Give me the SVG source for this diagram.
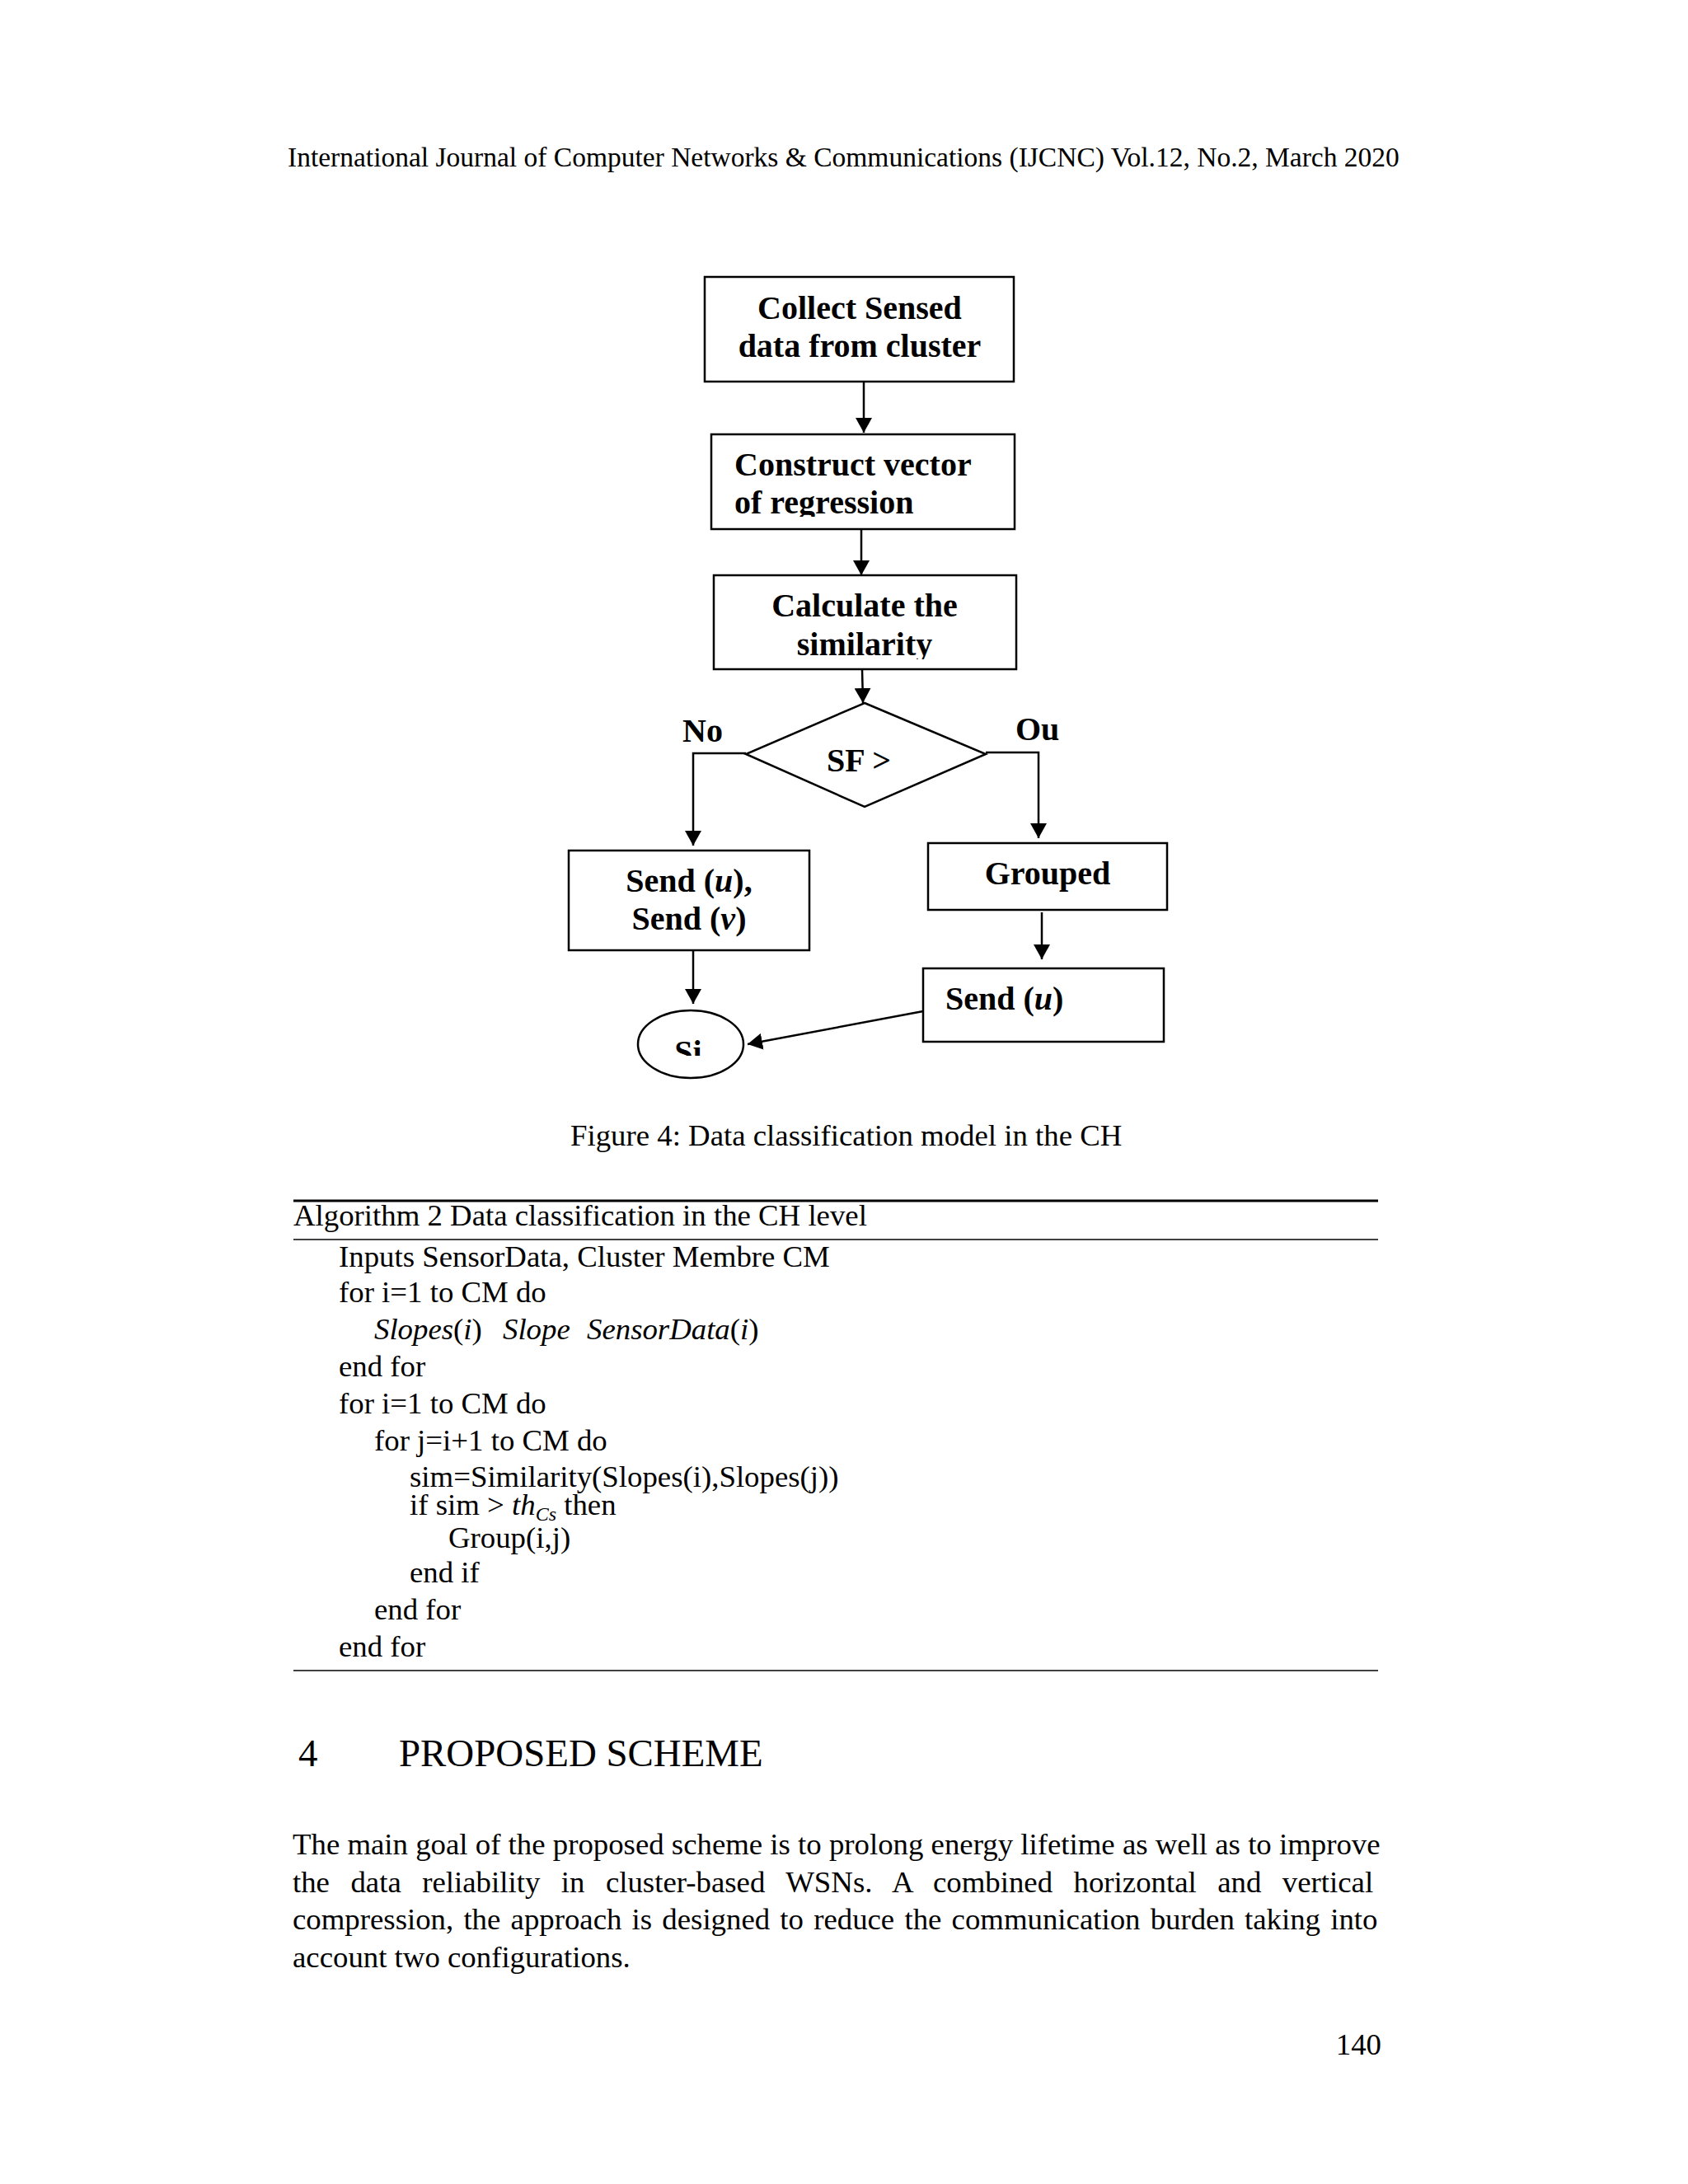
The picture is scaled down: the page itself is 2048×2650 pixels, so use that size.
<svg xmlns="http://www.w3.org/2000/svg" width="2048" height="2650" viewBox="0 0 2048 2650">
<style>
text{font-family:"Liberation Serif","Times New Roman",serif;fill:#000}
.b{font-weight:bold;font-size:40px}
.t{font-size:36.8px}
.i{font-style:italic}
.box{fill:#fff;stroke:#000;stroke-width:2.5}
.con{fill:none;stroke:#000;stroke-width:2.5}
</style>
<defs>
<marker id="ah" markerUnits="userSpaceOnUse" markerWidth="20" markerHeight="20" refX="18" refY="10" orient="auto">
<path d="M0,0 L18,10 L0,20 z" fill="#000"/>
</marker>
<clipPath id="c2"><rect x="860" y="520" width="380" height="107"/></clipPath>
<clipPath id="c3"><rect x="860" y="690" width="380" height="110"/></clipPath>
<clipPath id="cs"><rect x="770" y="1220" width="140" height="61"/></clipPath>
</defs>
<rect width="2048" height="2650" fill="#fff"/>
<text x="349" y="202" style="font-size:33.5px">International Journal of Computer Networks &amp; Communications (IJCNC) Vol.12, No.2, March 2020</text>

<g id="connectors">
<line class="con" x1="1048" y1="463" x2="1048" y2="525" marker-end="url(#ah)"/>
<line class="con" x1="1045" y1="642" x2="1045" y2="698" marker-end="url(#ah)"/>
<line class="con" x1="1046" y1="812" x2="1047" y2="853" marker-end="url(#ah)"/>
<polyline class="con" points="905,914 841,914 841,1026" marker-end="url(#ah)"/>
<polyline class="con" points="1196,913 1260,913 1260,1017" marker-end="url(#ah)"/>
<line class="con" x1="841" y1="1153" x2="841" y2="1218" marker-end="url(#ah)"/>
<line class="con" x1="1264" y1="1107" x2="1264" y2="1164" marker-end="url(#ah)"/>
<line class="con" x1="1120" y1="1227" x2="907" y2="1267" marker-end="url(#ah)"/>
</g>

<g id="collect">
<rect class="box" x="855" y="336" width="375" height="127"/>
<text class="b" x="1043" y="387" text-anchor="middle">Collect Sensed</text>
<text class="b" x="1043" y="433" text-anchor="middle">data from cluster</text>
</g>
<g id="construct">
<rect class="box" x="863" y="527" width="368" height="115"/>
<g clip-path="url(#c2)">
<text class="b" x="891" y="577">Construct vector</text>
<text class="b" x="891" y="623">of regression</text>
</g>
</g>
<g id="calculate">
<rect class="box" x="866" y="698" width="367" height="114"/>
<g clip-path="url(#c3)">
<text class="b" x="1049" y="748" text-anchor="middle">Calculate the</text>
<text class="b" x="1049" y="795" text-anchor="middle">similarity</text>
</g>
</g>
<g id="decision">
<polygon class="box" points="1049,853 1196,915 1049,979 905,915"/>
<text class="b" x="1003" y="936">SF &gt;</text>
</g>
<text id="label-no" class="b" x="828" y="900">No</text>
<text id="label-ou" class="b" x="1232" y="898">Ou</text>
<g id="send-uv">
<rect class="box" x="690" y="1032" width="292" height="121"/>
<text class="b" x="836" y="1082" text-anchor="middle">Send (<tspan class="i">u</tspan>),</text>
<text class="b" x="836" y="1128" text-anchor="middle">Send (<tspan class="i">v</tspan>)</text>
</g>
<g id="grouped">
<rect class="box" x="1126" y="1023" width="290" height="81"/>
<text class="b" x="1271" y="1073" text-anchor="middle">Grouped</text>
</g>
<g id="send-u">
<rect class="box" x="1120" y="1175" width="292" height="89"/>
<text class="b" x="1147" y="1225">Send (<tspan class="i">u</tspan>)</text>
</g>
<g id="si">
<ellipse class="box" cx="838" cy="1267" rx="64" ry="41"/>
<g clip-path="url(#cs)"><text class="b" x="835" y="1290" text-anchor="middle">Si</text></g>
</g>

<text class="t" x="692" y="1390">Figure 4: Data classification model in the CH</text>

<g id="algorithm">
<line x1="356" y1="1457" x2="1672" y2="1457" stroke="#000" stroke-width="3"/>
<text class="t" x="356" y="1487">Algorithm 2 Data classification in the CH level</text>
<line x1="356" y1="1504" x2="1672" y2="1504" stroke="#000" stroke-width="1.5"/>
<text class="t" x="411" y="1537">Inputs SensorData, Cluster Membre CM</text>
<text class="t" x="411" y="1580">for i=1 to CM do</text>
<text class="t" y="1625"><tspan x="454" class="i">Slopes</tspan>(<tspan class="i">i</tspan>)<tspan x="610" class="i">Slope</tspan><tspan x="712" class="i">SensorData</tspan>(<tspan class="i">i</tspan>)</text>
<text class="t" x="411" y="1670">end for</text>
<text class="t" x="411" y="1715">for i=1 to CM do</text>
<text class="t" x="454" y="1760">for j=i+1 to CM do</text>
<text class="t" x="497" y="1804">sim=Similarity(Slopes(i),Slopes(j))</text>
<text class="t" x="497" y="1838">if sim &gt; <tspan class="i">th</tspan><tspan class="i" style="font-size:24px" dy="7">Cs</tspan><tspan dy="-7"> then</tspan></text>
<text class="t" x="544" y="1878">Group(i,j)</text>
<text class="t" x="497" y="1920">end if</text>
<text class="t" x="454" y="1965">end for</text>
<text class="t" x="411" y="2010">end for</text>
<line x1="356" y1="2027" x2="1672" y2="2027" stroke="#000" stroke-width="1.5"/>
</g>

<text x="362" y="2143" style="font-size:46.9px">4</text>
<text x="484" y="2143" style="font-size:46.9px">PROPOSED SCHEME</text>

<text class="t" x="355" y="2250">The main goal of the proposed scheme is to prolong energy lifetime as well as to improve</text>
<text class="t" x="355" y="2296" style="word-spacing:16.3px">the data reliability in cluster-based WSNs. A combined horizontal and vertical</text>
<text class="t" x="355" y="2341" style="word-spacing:3px">compression, the approach is designed to reduce the communication burden taking into</text>
<text class="t" x="355" y="2387">account two configurations.</text>
<text class="t" x="1676" y="2493" text-anchor="end">140</text>
</svg>
